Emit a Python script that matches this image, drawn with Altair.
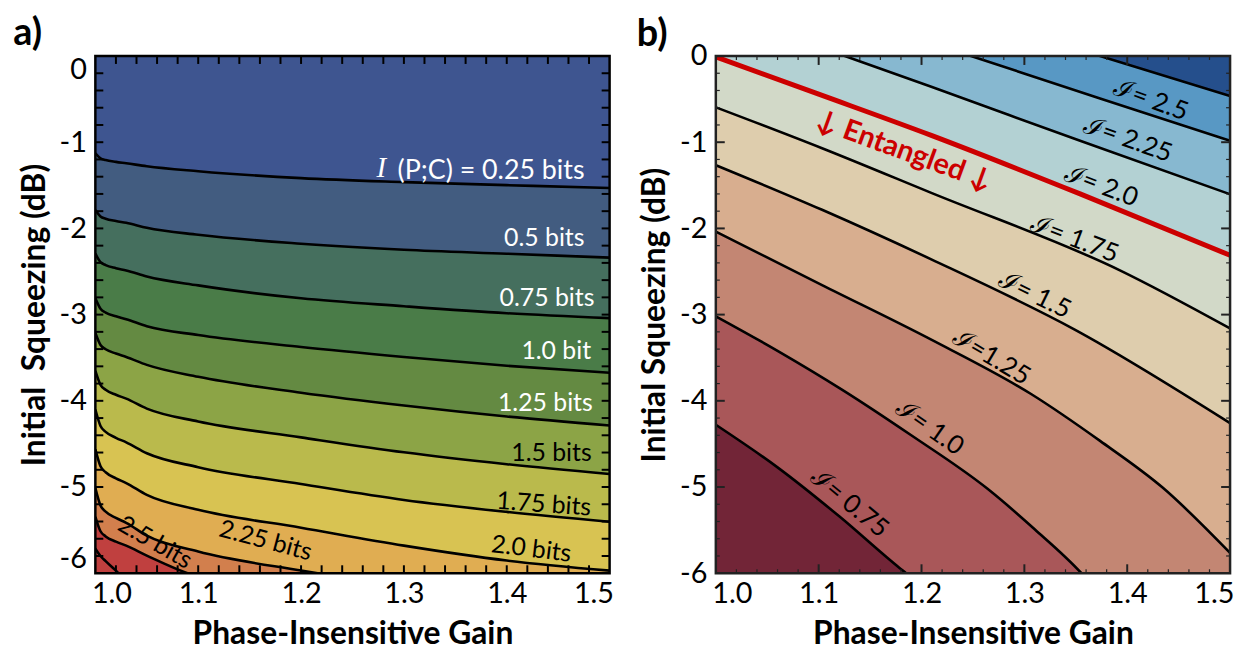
import altair as alt
import pandas as pd

FONT = "Lato"
W, H = 518, 521

# ---------------- panel a : contour lines I(P;C) ----------------
gain_a = [1.0, 1.005, 1.01, 1.02, 1.03, 1.05, 1.1, 1.2, 1.3, 1.4, 1.5]
a_levels = ["0.25", "0.5", "0.75", "1.0", "1.25", "1.5", "1.75", "2.0", "2.25", "2.5", "2.75"]
a_sq_025 = [-1.129, -1.187, -1.207, -1.228, -1.244, -1.279, -1.336, -1.417, -1.463, -1.498, -1.532]
a_sq_050 = [-1.786, -1.861, -1.887, -1.914, -1.935, -1.993, -2.074, -2.177, -2.247, -2.293, -2.339]
a_sq_075 = [-2.293, -2.391, -2.426, -2.461, -2.488, -2.558, -2.661, -2.811, -2.903, -2.984, -3.041]
a_sq_100 = [-2.811, -2.932, -2.976, -3.019, -3.053, -3.134, -3.237, -3.376, -3.491, -3.594, -3.675]
a_sq_125 = [-3.214, -3.353, -3.402, -3.452, -3.491, -3.583, -3.721, -3.906, -4.055, -4.182, -4.286]
a_sq_150 = [-3.652, -3.814, -3.872, -3.930, -3.975, -4.090, -4.240, -4.424, -4.597, -4.735, -4.850]
a_sq_175 = [-4.101, -4.292, -4.360, -4.429, -4.482, -4.608, -4.770, -4.965, -5.150, -5.288, -5.403]
a_sq_200 = [-4.562, -4.758, -4.829, -4.899, -4.954, -5.092, -5.265, -5.472, -5.680, -5.853, -5.970]
a_sq_225 = [-5.012, -5.214, -5.286, -5.359, -5.415, -5.565, -5.749, -5.968, -6.150, -6.300, -6.450]
a_sq_250 = [-5.345, -5.513, -5.573, -5.633, -5.680, -5.795, -6.040, -6.200, -6.350, -6.500, -6.650]
a_sq_275 = [-5.714, -5.800, -5.860, -5.970, -6.080, -6.150, -6.300, -6.450, -6.600, -6.750, -6.900]
a_sq = [a_sq_025, a_sq_050, a_sq_075, a_sq_100, a_sq_125, a_sq_150,
        a_sq_175, a_sq_200, a_sq_225, a_sq_250, a_sq_275]
# colour of the band lying above each contour line, and of the last band
a_band_colors = ["#3E5590", "#425C80", "#456F5E", "#4A7C48", "#648A42", "#8CA446",
                 "#BABA4C", "#D8C352", "#E0AD52", "#D27F4D", "#C0403F"]
a_bottom_color = "#C0403F"

a_first_text, a_first_x, a_first_y = ["(P;C) = 0.25 bits"], [1.4756], [-1.336]
a_white_text = ["0.5 bits", "0.75 bits", "1.0 bit", "1.25 bits"]
a_white_x = [1.4756, 1.4852, 1.4820, 1.4836]
a_white_y = [-2.112, -2.811, -3.425, -4.029]
a_black_r_text = ["1.5 bits", "1.75 bits", "2.0 bits"]
a_black_r_x = [1.4826, 1.4820, 1.4627]
a_black_r_y = [-4.601, -5.238, -5.775]
a_black_r_ang = [0, 4, 7]
a_black_c_text = ["2.25 bits", "2.5 bits"]
a_black_c_x = [1.1656, 1.0581]
a_black_c_y = [-5.621, -5.642]
a_black_c_ang = [15, 30]
a_I_x, a_I_y = [1.2781], [-1.30]

a_x_ticks = [1.02, 1.04, 1.06, 1.08, 1.10, 1.12, 1.14, 1.16, 1.18, 1.20, 1.22, 1.24,
             1.26, 1.28, 1.30, 1.32, 1.34, 1.36, 1.38, 1.40, 1.42, 1.44, 1.46, 1.48]
a_y_ticks = [-0.2, -0.4, -0.6, -0.8, -1.0, -1.2, -1.4, -1.6, -1.8, -2.0, -2.2, -2.4,
             -2.6, -2.8, -3.0, -3.2, -3.4, -3.6, -3.8, -4.0, -4.2, -4.4, -4.6, -4.8,
             -5.0, -5.2, -5.4, -5.6, -5.8]

# ---------------- panel b : contour lines of I ----------------
b_levels = ["0.75", "1.0", "1.25", "1.5", "1.75", "entangled", "2.0", "2.25", "2.5"]
b_g_075 = [1.0, 1.06, 1.12, 1.1789, 1.185, 1.25, 1.5]
b_s_075 = [-4.278, -4.772, -5.340, -5.942, -6.0, -7.0, -9.0]
b_g_100 = [1.0, 1.06, 1.1226, 1.19, 1.2642, 1.31, 1.3555, 1.42, 1.5]
b_s_100 = [-3.020, -3.420, -3.870, -4.400, -5.021, -5.490, -6.0, -7.0, -7.8]
b_g_125 = [1.0, 1.1033, 1.2095, 1.3069, 1.3736, 1.4344, 1.5]
b_s_125 = [-2.037, -2.658, -3.291, -3.924, -4.465, -5.006, -5.765]
b_g_150 = [1.0, 1.1033, 1.2095, 1.3494, 1.5]
b_s_150 = [-1.266, -1.784, -2.359, -3.176, -4.258]
b_g_175 = [1.0, 1.1033, 1.2095, 1.3929, 1.5]
b_s_175 = [-0.595, -1.070, -1.588, -2.486, -3.160]
b_g_ent = [1.0, 1.1, 1.2095, 1.3542, 1.5]
b_s_ent = [-0.010, -0.443, -0.921, -1.600, -2.312]
b_g_200 = [1.0, 1.1255, 1.2095, 1.3542, 1.5]
b_s_200 = [0.53, 0.0, -0.357, -0.984, -1.604]
b_g_225 = [1.0, 1.2481, 1.3736, 1.5]
b_s_225 = [0.97, 0.0, -0.492, -0.983]
b_g_250 = [1.0, 1.3736, 1.5]
b_s_250 = [1.37, 0.0, -0.464]
b_g = [b_g_075, b_g_100, b_g_125, b_g_150, b_g_175, b_g_ent, b_g_200, b_g_225, b_g_250]
b_s = [b_s_075, b_s_100, b_s_125, b_s_150, b_s_175, b_s_ent, b_s_200, b_s_225, b_s_250]
b_band_colors = ["#A95759", "#C38673", "#D8AE8F", "#DECDAD", "#D2D9C8",
                 "#B3D1D3", "#87B8D0", "#5898C4", "#254F8C"]
b_bottom_color = "#722537"

b_lab_text = ["ℐ= 2.5", "ℐ= 2.25", "ℐ= 2.0", "ℐ= 1.75", "ℐ= 1.5", "ℐ=1.25", "ℐ= 1.0", "ℐ= 0.75"]
b_lab_x = [1.4231, 1.4007, 1.3747, 1.3489, 1.3100, 1.2680, 1.2078, 1.1300]
b_lab_y = [-0.511, -0.967, -1.506, -2.123, -2.772, -3.491, -4.312, -5.188]
b_lab_ang = [20, 19.5, 21, 21, 26, 31, 35, 39.5]
b_ent_text, b_ent_x, b_ent_y, b_ent_ang = ["↓ Entangled ↓"], [1.183], [-1.10], [20]

b_x_major = [1.1, 1.2, 1.3, 1.4]
b_x_minor = [1.02, 1.04, 1.06, 1.08, 1.12, 1.14, 1.16, 1.18, 1.22, 1.24,
             1.26, 1.28, 1.32, 1.34, 1.36, 1.38, 1.42, 1.44, 1.46, 1.48]
b_y_major = [-1, -2, -3, -4, -5]
b_y_minor = [-0.2, -0.4, -0.6, -0.8, -1.2, -1.4, -1.6, -1.8, -2.2, -2.4, -2.6, -2.8,
             -3.2, -3.4, -3.6, -3.8, -4.2, -4.4, -4.6, -4.8, -5.2, -5.4, -5.6, -5.8]

x_label_values = [1.0, 1.1, 1.2, 1.3, 1.4, 1.5]
y_label_values = [0, -1, -2, -3, -4, -5, -6]


# ---------------- helpers ----------------
def enc_x(flush):
    return alt.X("gain:Q", title="Phase-Insensitive Gain",
                 scale=alt.Scale(domain=[1.0, 1.5], nice=False, zero=False),
                 axis=alt.Axis(values=x_label_values, format=".1f", labelFlush=flush,
                               labelFlushOffset=4))


def enc_y(flush, title):
    return alt.Y("sq:Q", title=title,
                 scale=alt.Scale(domain=[-6, 0], nice=False, zero=False),
                 axis=alt.Axis(values=y_label_values, labelExpr="datum.value + ''",
                               labelFlush=flush))


def ticks(xvals, yvals, length, X, Y, color="black", width=2):
    dx = pd.DataFrame({"gain": xvals})
    dy = pd.DataFrame({"sq": yvals})
    out = []
    if xvals:
        out.append(alt.Chart(dx).mark_rule(color=color, strokeWidth=width).encode(
            x=X, y=alt.value(0), y2=alt.value(length)))
        out.append(alt.Chart(dx).mark_rule(color=color, strokeWidth=width).encode(
            x=X, y=alt.value(H), y2=alt.value(H - length)))
    if yvals:
        out.append(alt.Chart(dy).mark_rule(color=color, strokeWidth=width).encode(
            y=Y, x=alt.value(0), x2=alt.value(length)))
        out.append(alt.Chart(dy).mark_rule(color=color, strokeWidth=width).encode(
            y=Y, x=alt.value(W), x2=alt.value(W - length)))
    return out


def background(color):
    return alt.Chart(pd.DataFrame({"k": [0]})).mark_rect(color=color).encode(
        x=alt.value(0), x2=alt.value(W), y=alt.value(0), y2=alt.value(H))


def frame(color, width):
    return alt.Chart(pd.DataFrame({"k": [0]})).mark_rect(
        fillOpacity=0, stroke=color, strokeWidth=width).encode(
        x=alt.value(0), x2=alt.value(W), y=alt.value(0), y2=alt.value(H))


def text_layer(texts, xs, ys, angs, X, Y, **kw):
    df = pd.DataFrame({"gain": xs, "sq": ys, "txt": texts, "ang": angs})
    return alt.Chart(df).mark_text(baseline="middle", **kw).encode(
        x=X, y=Y, text="txt:N", angle=alt.Angle("ang:Q", scale=None))


# ---------------- panel a ----------------
Xa = enc_x(True)
Ya = enc_y(True, "Initial\u00a0 Squeezing (dB)")
layers_a = [background(a_bottom_color)]
for lev, ys, col in reversed(list(zip(a_levels, a_sq, a_band_colors))):
    d = pd.DataFrame({"gain": gain_a, "sq": ys})
    layers_a.append(alt.Chart(d).mark_area(color=col, interpolate="monotone", clip=True)
                    .encode(x=Xa, y=Ya, y2=alt.datum(0)))
lines_a = pd.concat([pd.DataFrame({"gain": gain_a, "sq": ys, "level": lev})
                     for lev, ys in zip(a_levels, a_sq)])
layers_a.append(alt.Chart(lines_a).mark_line(color="black", strokeWidth=2.6,
                                             interpolate="monotone", clip=True)
                .encode(x=Xa, y=Ya, detail="level:N"))
layers_a.append(text_layer(a_first_text, a_first_x, a_first_y, [0], Xa, Ya,
                           align="right", color="white", font=FONT, fontSize=27))
layers_a.append(text_layer(a_white_text, a_white_x, a_white_y, [0] * 4, Xa, Ya,
                           align="right", color="white", font=FONT, fontSize=25))
layers_a.append(text_layer(["I"], a_I_x, a_I_y, [0], Xa, Ya, align="center", color="white",
                           font="Liberation Serif", fontStyle="italic", fontSize=29))
layers_a.append(text_layer(a_black_r_text, a_black_r_x, a_black_r_y, a_black_r_ang, Xa, Ya,
                           align="right", color="black", font=FONT, fontSize=25))
layers_a.append(text_layer(a_black_c_text, a_black_c_x, a_black_c_y, a_black_c_ang, Xa, Ya,
                           align="center", color="black", font=FONT, fontSize=25))
layers_a += ticks(a_x_ticks, a_y_ticks, 8, Xa, Ya)
layers_a.append(frame("black", 2.5))

panel_a = alt.layer(*layers_a).properties(
    width=W, height=H,
    title=alt.TitleParams("a)", anchor="start", frame="bounds", font=FONT, fontSize=38,
                          fontWeight="bold", offset=2, dx=-5))

# ---------------- panel b ----------------
Xb = enc_x(True)
Yb = enc_y(False, "Initial Squeezing (dB)")
layers_b = [background(b_bottom_color)]
for lev, xs, ys, col in zip(b_levels, b_g, b_s, b_band_colors):
    d = pd.DataFrame({"gain": xs, "sq": ys})
    layers_b.append(alt.Chart(d).mark_area(color=col, interpolate="monotone", clip=True)
                    .encode(x=Xb, y=Yb, y2=alt.datum(0)))
black_b = pd.concat([pd.DataFrame({"gain": xs, "sq": ys, "level": lev})
                     for lev, xs, ys in zip(b_levels, b_g, b_s) if lev != "entangled"])
layers_b.append(alt.Chart(black_b).mark_line(color="black", strokeWidth=2.6,
                                             interpolate="monotone", clip=True)
                .encode(x=Xb, y=Yb, detail="level:N"))
layers_b.append(alt.Chart(pd.DataFrame({"gain": b_g_ent, "sq": b_s_ent}))
                .mark_line(color="#CC0000", strokeWidth=5, interpolate="monotone", clip=True)
                .encode(x=Xb, y=Yb))
layers_b.append(text_layer(b_lab_text, b_lab_x, b_lab_y, b_lab_ang, Xb, Yb,
                           align="center", color="black", font=FONT, fontSize=26))
layers_b.append(text_layer(b_ent_text, b_ent_x, b_ent_y, b_ent_ang, Xb, Yb,
                           align="center", color="#CC0000", font=FONT, fontSize=29,
                           fontWeight="bold"))
layers_b += ticks(b_x_major, b_y_major, 9, Xb, Yb, color="#222")
layers_b += ticks(b_x_minor, b_y_minor, 4, Xb, Yb, color="#222", width=1.2)
layers_b.append(frame("#222", 2.5))

panel_b = alt.layer(*layers_b).properties(
    width=W, height=H,
    title=alt.TitleParams("b)", anchor="start", frame="bounds", font=FONT, fontSize=38,
                          fontWeight="bold", offset=-12, dx=-2))

chart = alt.hconcat(panel_a, panel_b, spacing=23).properties(
    padding={"left": 5, "top": 4, "right": 5, "bottom": 0}
).configure_view(strokeWidth=0).configure_axis(
    grid=False, ticks=False, domain=False,
    labelFont=FONT, labelFontSize=29, labelColor="black",
    titleFont=FONT, titleFontSize=32, titleFontWeight="bold", titleColor="black"
).configure_axisX(labelPadding=6, titlePadding=11
).configure_axisY(labelPadding=9, titlePadding=8
).configure_title(color="black")

chart.save("out.html", embed_options={"renderer": "svg", "actions": False})
